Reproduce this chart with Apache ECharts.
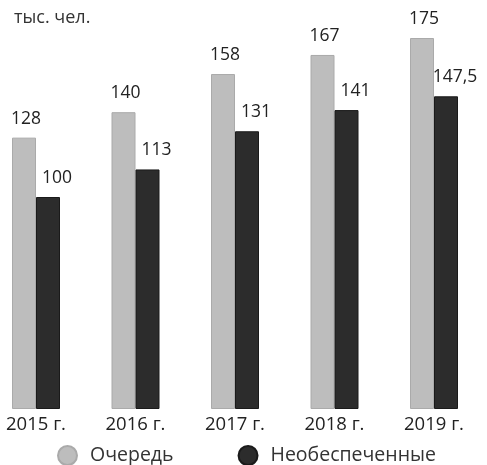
<!DOCTYPE html>
<html>
<head>
<meta charset="utf-8">
<script src="https://cdn.jsdelivr.net/npm/echarts@6/dist/echarts.min.js"></script>
<style>html,body{margin:0;padding:0;background:#fff;}#c{width:487px;height:465px;}</style>
</head>
<body>
<div id="c"></div>
<script>
var categories = ['2015 г.', '2016 г.', '2017 г.', '2018 г.', '2019 г.'];
var queue = [128, 140, 158, 167, 175];
var unprovided = [100, 113, 131, 141, 147.5];
var seriesNames = ['Очередь', 'Необеспеченные'];
var unitLabel = 'тыс. чел.';

var FONT = '"Open Sans", "Noto Sans", sans-serif';
var chart = echarts.init(document.getElementById('c'));
function fmt(p) { return String(p.value).replace('.', ','); }
chart.setOption({
  animation: false,
  title: {
    text: unitLabel, left: 9, top: 4,
    textStyle: { fontFamily: FONT, fontSize: 18, fontWeight: 'normal', color: '#333' }
  },
  legend: {
    data: seriesNames, left: 57, top: 445, padding: 0,
    icon: 'circle', itemWidth: 19, itemHeight: 19, itemGap: 64,
    textStyle: { fontFamily: FONT, fontSize: 19.5, color: '#333', padding: [0, 0, 0, 8] }
  },
  grid: { left: -13.75, right: 3.25, top: 27.4, bottom: 56, outerBoundsMode: 'none', containLabel: false },
  xAxis: {
    type: 'category', data: categories,
    axisLine: { show: false }, axisTick: { show: false },
    axisLabel: { fontFamily: FONT, fontSize: 18.5, color: '#222', margin: 6 }
  },
  yAxis: { type: 'value', min: 0, max: 180, show: false, splitLine: { show: false } },
  series: [
    {
      name: seriesNames[0], type: 'bar', data: queue, barWidth: 24, barGap: '0%',
      itemStyle: { color: '#bdbdbd', borderColor: '#aaaaaa', borderWidth: 1 },
      label: { show: true, position: 'top', distance: 10, offset: [2, 0], formatter: fmt,
        fontFamily: FONT, fontSize: 17.5, color: '#222' }
    },
    {
      name: seriesNames[1], type: 'bar', data: unprovided, barWidth: 24, barGap: '0%',
      itemStyle: { color: '#2c2c2c', borderColor: '#1a1a1a', borderWidth: 1 },
      label: { show: true, position: 'top', distance: 10, offset: [9, 0], formatter: fmt,
        fontFamily: FONT, fontSize: 17.5, color: '#222' }
    }
  ]
});
</script>
</body>
</html>
